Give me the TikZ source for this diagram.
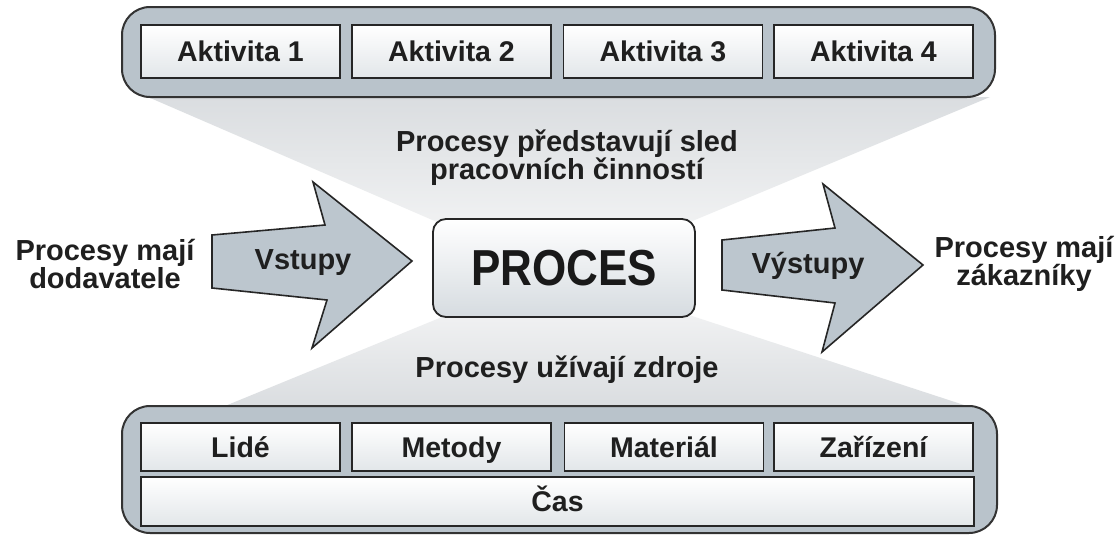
\documentclass[tikz,border=0pt]{standalone}
\usepackage{fontspec}
\setmainfont{Liberation Sans}
\begin{document}
\begin{tikzpicture}[x=1pt,y=-1pt,
  frame/.style={draw=black!80,line width=2pt,rounded corners=28pt,fill=cont},
  cell/.style={draw=black!85,line width=1.6pt,top color=white,bottom color=boxb,
    minimum height=53pt,minimum width=199pt,inner sep=0pt,text height=20pt,text depth=0pt,
    font=\fontsize{28.5}{28.5}\selectfont\bfseries,text=black!88},
  bcell/.style={cell,minimum height=48pt},
  fat/.style={draw=black!85,line width=1.6pt,fill=arr,line join=miter},
  lbl/.style={font=\fontsize{29}{28}\selectfont\bfseries,text=black!88,align=center,inner sep=0pt},
  fan/.style={top color=fant,bottom color=fanb,draw=none}]
\definecolor{cont}{HTML}{B9C3CB}
\definecolor{arr}{HTML}{BCC6CE}
\definecolor{boxb}{HTML}{E2E6E9}
\definecolor{fant}{HTML}{DADDE0}
\definecolor{fanb}{HTML}{F0F1F2}
\useasboundingbox (0,0) rectangle (1119,538);
\fill[white] (0,0) rectangle (1119,538);
% fans
\path[fan] (148,97) -- (990,97) -- (690,222) -- (437,222) -- cycle;
\path[fan,top color=fanb,bottom color=fant] (447,315) -- (689,315) -- (967,406) -- (225,406) -- cycle;
% top container
\draw[frame] (122,7) rectangle (995,97);
\node[cell] (a1) at (240.5,51.5) {Aktivita 1};
\node[cell] (a2) at (451.5,51.5) {Aktivita 2};
\node[cell] (a3) at (663,51.5) {Aktivita 3};
\node[cell] (a4) at (873.5,51.5) {Aktivita 4};
% bottom container
\draw[frame] (122,406) rectangle (997,533);
\node[bcell] (b1) at (240.5,447) {Lidé};
\node[bcell] (b2) at (451.5,447) {Metody};
\node[bcell] (b3) at (664,447) {Materiál};
\node[bcell] (b4) at (873.5,447) {Zařízení};
\node[bcell,minimum width=833pt,minimum height=49pt] (cas) at (557.5,501.5) {Čas};
% process
\node[draw=black!85,line width=1.8pt,rounded corners=13pt,top color=white,bottom color=boxb!70!cont,
  minimum width=262pt,minimum height=98pt,inner sep=0pt,
  font=\fontsize{44}{44}\selectfont\bfseries,text=black!90] (proc) at (564,268) {\scalebox{1}[1.15]{PROCES}};
% arrows
\draw[fat] (212,235) -- (325,225) -- (313,182) -- (412,261) -- (312,348) -- (327,300) -- (212,288) -- cycle;
\draw[fat] (722,240) -- (835,228) -- (823,184) -- (923,265) -- (822,352) -- (835,303) -- (722,290) -- cycle;
\node[lbl] (vst) at (303,263) {Vstupy};
\node[lbl] (vys) at (808,266) {Výstupy};
% labels
\node[lbl] (t1) at (567,158) {Procesy představují sled\\pracovních činností};
\node[lbl] (t2) at (567,370) {Procesy užívají zdroje};
\node[lbl] (t3) at (105,264) {Procesy mají\\dodavatele};
\node[lbl] (t4) at (1024,264) {Procesy mají\\zákazníky};
\end{tikzpicture}
\end{document}
